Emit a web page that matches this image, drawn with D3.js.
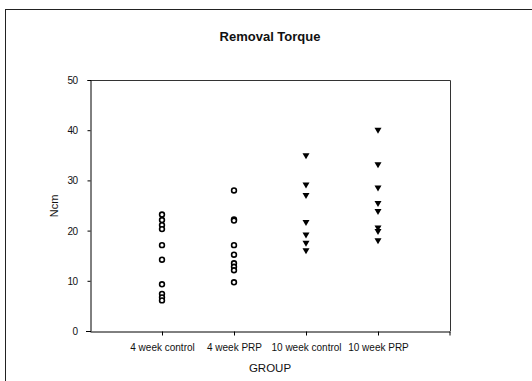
<!DOCTYPE html>
<html>
<head>
<meta charset="utf-8">
<script src="https://cdn.jsdelivr.net/npm/d3@7"></script>
<style>
body { margin: 0; background: #fff; }
text { font-family: "Liberation Sans", Arial, sans-serif; fill: #111; }
</style>
</head>
<body>
<div id="chart"></div>
<script>
var width = 532,
	height = 381;

// Data
var groups = ["4 week control", "4 week PRP", "10 week control", "10 week PRP"];
var wk4Control = [23.2, 22.1, 21.1, 20.3, 17.1, 14.2, 9.3, 7.4, 6.7, 6.1];
var wk4PRP = [28.0, 22.2, 22.0, 17.1, 15.2, 13.5, 12.8, 12.1, 9.7];
var wk10Control = [34.9, 29.1, 27.0, 21.6, 19.1, 17.5, 16.0];
var wk10PRP = [40.0, 33.1, 28.5, 25.4, 23.8, 20.5, 19.8, 18.0];
var series = [wk4Control, wk4PRP, wk10Control, wk10PRP];
var yTicks = [0, 10, 20, 30, 40, 50];

var svg = d3.select("#chart")
	.append("svg")
	.attr("width", width)
	.attr("height", height);

// outer frame (runs off the right and bottom)
svg.append("rect")
	.attr("x", 5.5).attr("y", 9.5)
	.attr("width", 540).attr("height", 390)
	.attr("fill", "none")
	.attr("stroke", "#222")
	.attr("stroke-width", 1);

var margin = {left: 90, right: 450, top: 80, bottom: 331};

var x = d3.scalePoint()
	.domain(groups)
	.range([margin.left, margin.right])
	.padding(1);

var y = d3.scaleLinear()
	.domain([0, 50])
	.range([margin.bottom, margin.top]);

// plot box top/right
svg.append("path")
	.attr("d", "M" + margin.left + "," + (margin.top + 0.5) + "H" + (margin.right + 0.5) + "V" + margin.bottom)
	.attr("fill", "none")
	.attr("stroke", "#333")
	.attr("stroke-width", 1);

// Axes
var yAxis = svg.append("g")
	.attr("transform", "translate(" + (margin.left + 0.5) + ",0)")
	.call(d3.axisLeft(y).tickValues(yTicks).tickSize(3).tickPadding(10).tickFormat(d3.format("d")));
yAxis.selectAll("text").style("font-size", "10px").style("letter-spacing", "-0.6px").attr("dy", "0.35em");

var xAxis = svg.append("g")
	.attr("transform", "translate(0," + (margin.bottom + 0.5) + ")")
	.call(d3.axisBottom(x).tickSize(4).tickPadding(8).tickSizeOuter(0));
xAxis.selectAll("text").style("font-size", "10px");
xAxis.append("line")
	.attr("x1", margin.left - 4).attr("x2", margin.left)
	.attr("stroke", "#000");
xAxis.append("line")
	.attr("x1", margin.right).attr("x2", margin.right)
	.attr("y1", 0).attr("y2", 4)
	.attr("stroke", "#000");

svg.selectAll(".domain, .tick line").attr("stroke", "#000");

// Points
series.forEach(function(vals, i) {
	var g = svg.append("g");
	if (i < 2) {
		g.selectAll("circle")
			.data(vals)
			.enter()
			.append("circle")
			.attr("cx", x(groups[i]))
			.attr("cy", function(d){ return y(d); })
			.attr("r", 2.4)
			.attr("fill", "#fff")
			.attr("stroke", "#000")
			.attr("stroke-width", 1.6);
	} else {
		g.selectAll("path")
			.data(vals)
			.enter()
			.append("path")
			.attr("transform", function(d){ return "translate(" + x(groups[i]) + "," + y(d) + ")"; })
			.attr("d", "M-3.5,-2.5L3.5,-2.5L0,3.5Z")
			.attr("fill", "#000");
	}
});

// Labels
svg.append("text")
	.attr("x", 270).attr("y", 41)
	.attr("text-anchor", "middle")
	.style("font-size", "13px")
	.style("font-weight", "bold")
	.text("Removal Torque");

svg.append("text")
	.attr("transform", "translate(58,206) rotate(-90)")
	.attr("text-anchor", "middle")
	.style("font-size", "11px")
	.text("Ncm");

svg.append("text")
	.attr("x", 270).attr("y", 372)
	.attr("text-anchor", "middle")
	.style("font-size", "11.5px")
	.text("GROUP");
</script>
</body>
</html>
